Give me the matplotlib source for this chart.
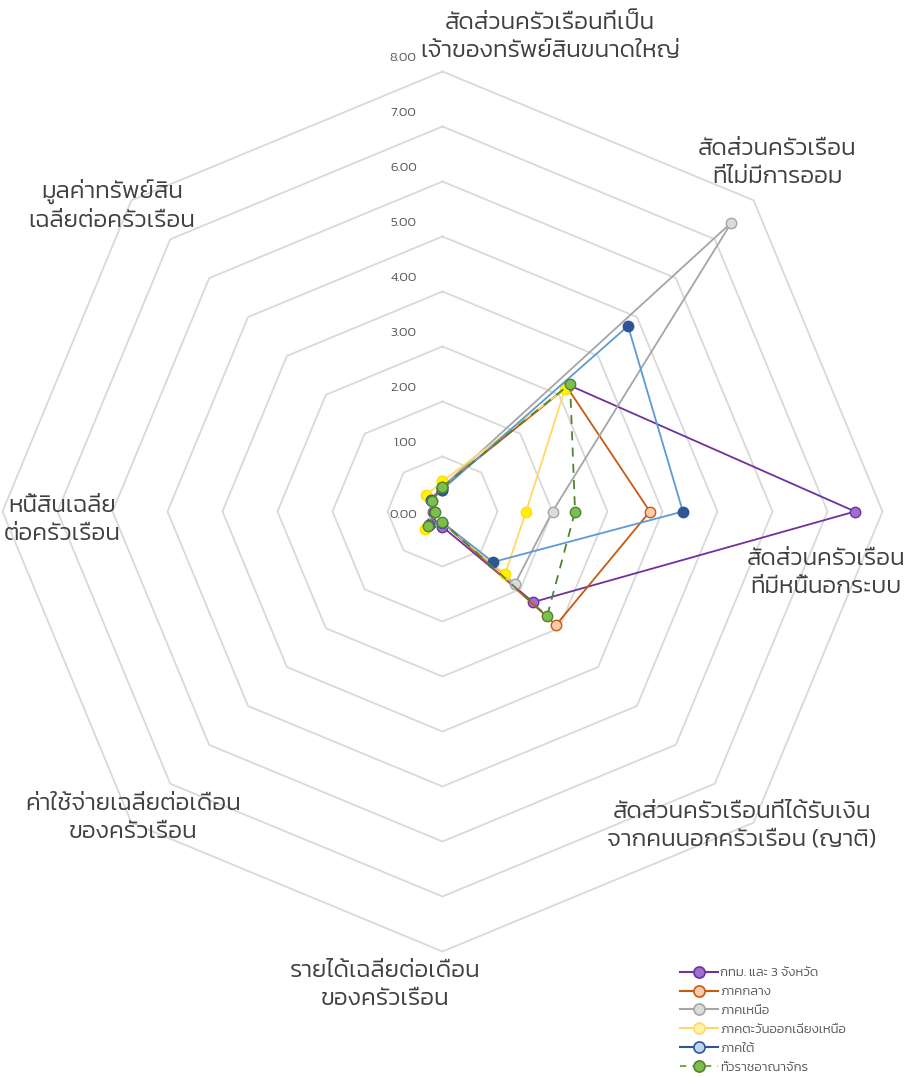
import numpy as np
import matplotlib

matplotlib.use("Agg")
import matplotlib.pyplot as plt
from matplotlib.lines import Line2D

plt.rcParams["font.family"] = ["Kanit", "DejaVu Sans"]
plt.rcParams["font.weight"] = 300

categories = [
    "สัดส่วนครัวเรือนที่เป็น\nเจ้าของทรัพย์สินขนาดใหญ่",
    "สัดส่วนครัวเรือน\nที่ไม่มีการออม",
    "สัดส่วนครัวเรือน\nที่มีหนี้นอกระบบ",
    "สัดส่วนครัวเรือนที่ได้รับเงิน\nจากคนนอกครัวเรือน (ญาติ)",
    "รายได้เฉลี่ยต่อเดือน\nของครัวเรือน",
    "ค่าใช้จ่ายเฉลี่ยต่อเดือน\nของครัวเรือน",
    "หนี้สินเฉลี่ย\nต่อครัวเรือน",
    "มูลค่าทรัพย์สิน\nเฉลี่ยต่อครัวเรือน",
]
series_names = [
    "กทม. และ 3 จังหวัด",
    "ภาคกลาง",
    "ภาคเหนือ",
    "ภาคตะวันออกเฉียงเหนือ",
    "ภาคใต้",
    "ทั่วราชอาณาจักร",
]
bangkok = [0.45, 3.25, 7.50, 2.33, 0.28, 0.30, 0.17, 0.30]
central = [0.45, 3.20, 3.77, 2.92, 0.20, 0.35, 0.15, 0.30]
north = [0.45, 7.43, 2.00, 1.86, 0.20, 0.35, 0.15, 0.28]
northeast = [0.55, 3.15, 1.52, 1.61, 0.20, 0.45, 0.15, 0.42]
south = [0.40, 4.77, 4.37, 1.30, 0.20, 0.35, 0.15, 0.30]
kingdom = [0.45, 3.28, 2.41, 2.69, 0.19, 0.36, 0.14, 0.27]
tick_values = [0, 1, 2, 3, 4, 5, 6, 7, 8]

series = [bangkok, central, north, northeast, south, kingdom]
styles = [
    dict(color="#7030A0", mfc="#9E6FCF", mec="#7030A0", ls="-"),
    dict(color="#C55A11", mfc="#F8CBAD", mec="#C55A11", ls="-"),
    dict(color="#A5A5A5", mfc="#DBDBDB", mec="#A5A5A5", ls="-"),
    dict(color="#FFD966", mfc="#FFF200", mec="#FFE000", ls="-"),
    dict(color="#5B9BD5", mfc="#2F5597", mec="#2F5597", ls="-"),
    dict(color="#548235", mfc="#7CC04B", mec="#548235", ls=(0, (5, 4))),
]
# the legend draws its own (slightly different) swatches
legend_styles = [
    dict(color="#7030A0", mfc="#9E6FCF", mec="#7030A0", ls="-"),
    dict(color="#C55A11", mfc="#F8CBAD", mec="#C55A11", ls="-"),
    dict(color="#A5A5A5", mfc="#DBDBDB", mec="#A5A5A5", ls="-"),
    dict(color="#FFD966", mfc="#FFF2A0", mec="#FFD966", ls="-"),
    dict(color="#2F5597", mfc="#BDD7EE", mec="#2F5597", ls="-"),
    dict(color="#70AD47", mfc="#7CC04B", mec="#548235", ls=(0, (3, 3))),
]

W, H = 914, 1077
CX, CY, S = 442.5, 511.5, 55.0  # centre (px from top-left) and px per unit

fig = plt.figure(figsize=(W / 100, H / 100), dpi=100)
ax = fig.add_axes([0, 0, 1, 1])
ax.set_xlim(-CX / S, (W - CX) / S)
ax.set_ylim(-(H - CY) / S, CY / S)
ax.axis("off")

n = len(categories)
ang = np.pi / 2 - np.arange(n) * 2 * np.pi / n
ang_c = np.append(ang, ang[0])

# octagon grid
for r in tick_values[1:]:
    ax.plot(r * np.cos(ang_c), r * np.sin(ang_c), color="#D9D9D9", lw=1.3, zorder=1)

for r in tick_values:
    yy = r + (0.24 if r else -0.06)
    ax.text(-0.47, yy, f"{r:.2f}", ha="right", va="center", fontsize=9.5, color="#595959")

for vals, st in zip(series, styles):
    v = np.append(vals, vals[0])
    ax.plot(v * np.cos(ang_c), v * np.sin(ang_c), lw=1.3, marker="o", ms=7.5,
            mew=1.0, zorder=3, **st)


def fpos(px, py):
    return px / W, 1 - py / H


label_pos = [(550, 37), (777, 163), (826, 573), (742, 826),
             (385, 985), (133, 818), (62, 520), (112, 205)]
for txt, (px, py) in zip(categories, label_pos):
    x, y = fpos(px, py)
    fig.text(x, y, txt, ha="center", va="center", fontsize=17.5, color="#404040",
             linespacing=1.35)

handles = [Line2D([], [], lw=1.5, marker="o", ms=8, mew=1.2, **st) for st in legend_styles]
leg = fig.legend(handles, series_names, loc="upper left", bbox_to_anchor=fpos(680, 967),
                 frameon=False, fontsize=9.5, handlelength=2.9, handletextpad=0.15,
                 labelspacing=0.58, borderaxespad=0, borderpad=0, labelcolor="#595959")

fig.savefig("out.png", dpi=100)
